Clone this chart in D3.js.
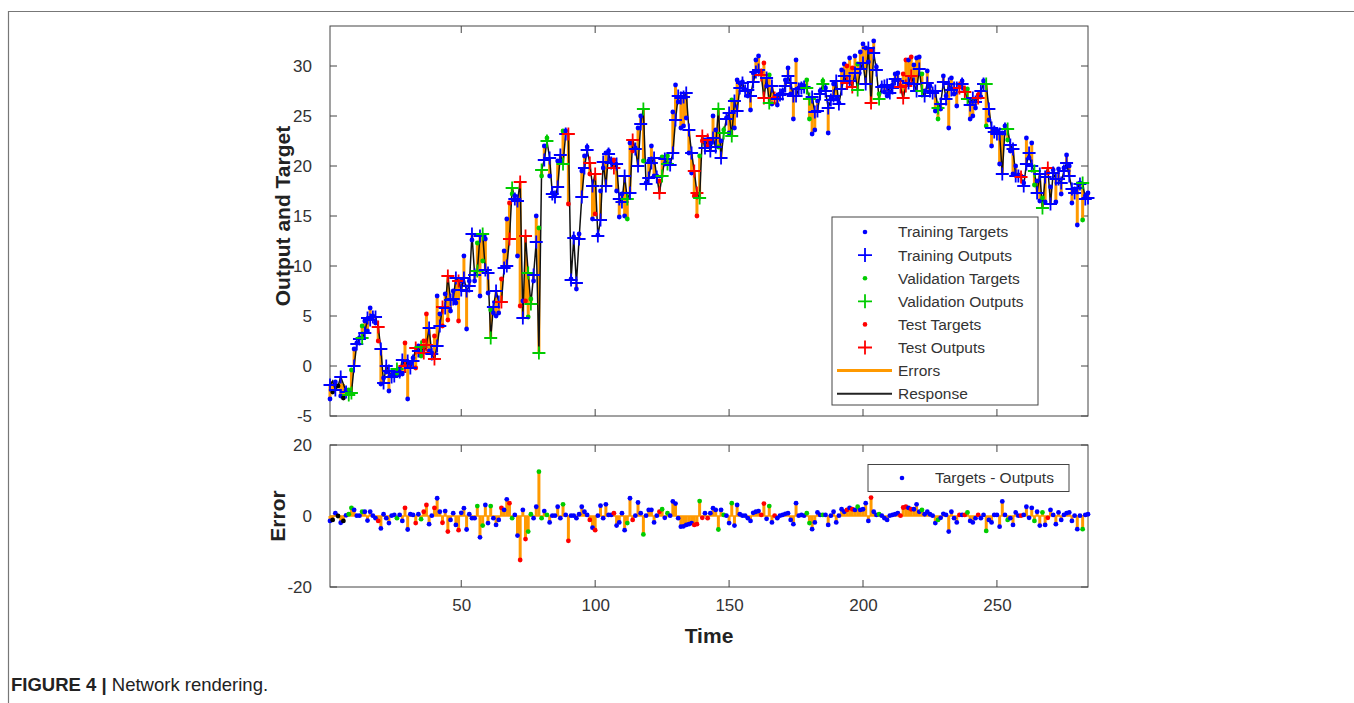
<!DOCTYPE html>
<html>
<head>
<meta charset="utf-8">
<script src="https://cdn.jsdelivr.net/npm/d3@7"></script>
<style>
  body { margin: 0; background: #fff; }
  svg { display: block; font-family: "Liberation Sans", Arial, sans-serif; }
</style>
</head>
<body>
<svg id="chart" width="1354" height="703"></svg>
<script>
/* Data (time steps 1..284) */
var targets = [
  -3.3, -2.6, -1.6, -2.0, -3.0, -3.2, -2.4, -2.4, -0.4, 1.7,
  2.3, 2.8, 4.0, 4.5, 3.5, 5.8, 5.0, 4.3, 2.5, -1.8,
  -1.2, -0.6, -2.5, -1.0, -0.7, -0.9, -0.3, -0.8, 2.3, -3.3,
  0.3, 0.8, -0.2, 2.0, 1.0, 2.5, 5.2, 1.5, 1.3, 3.0,
  7.0, 5.2, 4.0, 7.2, 4.6, 5.5, 7.5, 6.3, 4.5, 8.5,
  11.0, 3.7, 8.5, 12.6, 8.5, 12.3, 7.0, 10.5, 12.7, 7.3,
  5.6, 5.3, 5.0, 5.3, 8.7, 11.5, 14.7, 16.3, 17.2, 17.0,
  11.0, 6.0, 6.5, 6.5, 4.9, 6.7, 8.5, 15.0, 13.8, 19.0,
  22.0, 22.8, 19.0, 17.3, 17.0, 20.5, 20.5, 23.5, 23.5, 16.2,
  8.7, 12.9, 7.7, 13.2, 19.5, 21.0, 21.9, 19.2, 14.7, 15.2,
  13.1, 17.5, 19.8, 21.3, 21.5, 20.6, 20.6, 17.5, 14.9, 17.2,
  15.0, 14.7, 22.3, 21.5, 21.8, 23.8, 25.0, 20.5, 18.3, 20.5,
  22.0, 19.0, 19.0, 18.5, 20.9, 20.2, 21.0, 20.2, 25.4, 28.1,
  26.4, 23.8, 24.0, 24.8, 21.3, 19.3, 17.0, 15.0, 21.0, 22.5,
  22.6, 22.0, 22.3, 25.0, 23.6, 21.9, 22.5, 23.6, 24.8, 23.3,
  26.6, 23.8, 28.6, 28.3, 28.4, 27.6, 27.0, 25.6, 29.3, 30.6,
  31.0, 29.4, 30.3, 28.0, 29.1, 26.2, 26.9, 26.1, 27.2, 27.5,
  28.6, 29.8, 27.2, 24.7, 30.6, 27.8, 28.1, 28.0, 28.6, 24.7,
  23.2, 23.6, 26.5, 27.5, 28.5, 27.8, 23.3, 26.7, 28.2, 26.7,
  26.3, 29.6, 30.2, 30.0, 30.8, 29.8, 31.0, 30.2, 31.4, 32.2,
  31.8, 30.4, 31.5, 32.5, 29.9, 27.2, 28.0, 27.4, 27.0, 27.4,
  28.1, 29.2, 29.3, 28.0, 29.2, 30.6, 30.6, 30.9, 30.1, 30.8,
  30.9, 29.2, 27.5, 29.5, 28.0, 27.4, 25.5, 24.7, 25.7, 29.0,
  27.0, 23.8, 28.8, 27.2, 26.0, 28.1, 28.5, 27.7, 27.7, 24.7,
  25.0, 25.8, 27.1, 26.9, 28.5, 24.0, 24.6, 22.0, 23.7, 23.5,
  20.2, 23.3, 24.0, 22.6, 21.5, 19.2, 20.0, 19.1, 19.0, 18.3,
  22.8, 20.8, 22.3, 18.1, 18.5, 16.5, 16.8, 16.4, 19.3, 17.9,
  19.6, 16.4, 19.7, 17.2, 19.8, 21.1, 20.0, 16.3, 17.4, 14.1,
  18.3, 14.6, 17.0, 17.3
];

// errors = targets - outputs
var errors = [
  -1.4, -1.1, 0.8, 0.0, -1.9, -1.4, 0.2, 0.5, 2.3, 1.7,
  0.1, 0.1, 1.2, 1.2, -1.3, 1.2, 0.1, -0.6, -1.4, -3.5,
  0.5, -0.6, -2.0, 0.1, 0.3, -0.6, 0.3, -1.4, 2.3, -3.8,
  0.5, 0.3, -2.0, 0.5, -0.9, 1.2, 3.1, -2.3, 0.1, 2.3,
  5.0, 1.2, -1.9, 1.4, -4.4, -1.1, 0.8, -2.5, -4.0, 0.9,
  2.2, -3.8, 0.5, -0.6, -0.6, 2.8, -6.0, -2.7, 3.1, -2.0,
  2.8, -0.6, -2.5, -1.1, 2.3, 1.7, 4.7, 3.6, -0.6, 0.3,
  -5.5, -12.4, 1.7, -6.5, -4.4, 0.5, -0.6, 2.6, 12.5, -0.6,
  1.4, 0.3, -1.8, 0.1, 0.1, 2.6, -0.6, 3.3, 0.3, -7.0,
  0.1, 0.1, -0.6, 0.5, 2.6, 1.2, 0.3, -1.1, -3.3, -4.0,
  0.1, 2.9, -0.6, 3.3, 0.3, 0.3, 0.8, -2.7, -1.8, 0.8,
  -4.0, -2.0, 5.0, -1.1, 0.1, 3.8, 0.8, -5.2, 0.1, 1.7,
  1.7, -1.8, 0.1, 1.2, 1.9, -0.5, 0.8, 0.1, 4.1, 3.5,
  -0.6, -3.0, -2.9, -2.5, -2.3, -2.0, -2.5, -2.3, 4.2, -0.5,
  0.8, -0.6, 0.8, 2.2, 1.7, -3.8, 1.7, 0.3, 0.1, -2.0,
  3.6, -2.7, 3.1, 0.5, 0.1, 0.1, -0.6, -1.4, 0.9, 1.2,
  1.4, 0.3, 3.5, -0.8, 2.8, -1.8, 0.1, -0.6, 0.1, 0.3,
  0.6, 0.8, -1.1, -2.3, 3.6, 0.1, 0.3, 0.1, 0.8, -2.0,
  -3.7, -1.8, 1.0, 0.3, 0.3, 0.3, -2.5, 0.1, 1.2, -1.8,
  0.1, 1.9, 1.2, 1.7, 2.3, 1.9, 1.7, 2.6, 1.7, 1.9,
  3.6, -1.4, 5.2, 1.2, 0.3, 0.5, 0.1, -0.6, -1.1, 0.1,
  0.3, 0.5, 0.8, 0.1, 2.4, 2.6, 2.3, 1.9, 1.9, 3.3,
  1.2, 1.7, 0.5, 1.2, 0.5, 0.1, -2.0, -1.1, -0.5, 0.6,
  0.3, -4.4, 1.2, -0.6, -1.8, 0.3, 0.3, 0.3, 1.0, -1.4,
  -1.8, -0.6, 0.3, -0.6, 0.3, -4.2, -1.1, -1.8, 0.3, 0.3,
  -3.0, 4.1, 0.3, -1.1, -0.6, -2.5, 1.0, 0.1, 0.1, 0.3,
  2.6, -0.5, 2.3, -1.4, 1.2, -2.7, 1.0, -2.5, -0.5, 1.7,
  0.3, -2.3, 1.0, -1.1, 0.3, 0.8, 1.0, -1.4, 0.1, -3.7,
  0.1, -3.7, 0.3, 0.5
];

// t = training, v = validation, s = test
var split = ("trtrtrtvvt ttvtttttst tttttvttst ttstvsstts ttststttst " +
             "tttttvtvtt vtttsttsvt tstsvvttvv tvtttttvts tttttttsts " +
             "ttttttsttt tvtstttvtt tttsvtvttt ttttttssvs tstttvtvtt " +
             "vttttttttt tsstvtsttt ttttttttvv ttttvttttt tttststvtt " +
             "ttsttvtttt tttssststt tvtttttvtt tttttstsvt ttsttvtttt " +
             "tttvttttst tttvttvtst tttttttttt tvtt").replace(/ /g, "").split("");

var xTicks = [50, 100, 150, 200, 250];
var yTicksTop = [-5, 0, 5, 10, 15, 20, 25, 30];
var yTicksBottom = [-20, 0, 20];

var legendTop = [
  {label: "Training Targets", kind: "dot", color: "#0000ff"},
  {label: "Training Outputs", kind: "plus", color: "#0000ff"},
  {label: "Validation Targets", kind: "dot", color: "#00cc00"},
  {label: "Validation Outputs", kind: "plus", color: "#00cc00"},
  {label: "Test Targets", kind: "dot", color: "#ff0000"},
  {label: "Test Outputs", kind: "plus", color: "#ff0000"},
  {label: "Errors", kind: "line", color: "#ff9900"},
  {label: "Response", kind: "line", color: "#222"}
];

var colorOf = {t: "#0000ff", v: "#00cc00", s: "#ff0000"};
var axisColor = "#444";
var textColor = "#333";

var data = targets.map(function (v, i) {
  return {t: i + 1, target: v, err: errors[i], output: v - errors[i], set: split[i]};
});

var svg = d3.select("svg#chart");

// page frame
svg.append("path")
  .attr("d", "M8.5,703 V11.5 H1354")
  .attr("fill", "none")
  .attr("stroke", "#777")
  .attr("stroke-width", 1.2);

/* Scales */
var x = d3.scaleLinear().domain([1, 284]).range([330, 1088]);
var yTop = d3.scaleLinear().domain([-5, 34]).range([416, 26]);
var yBot = d3.scaleLinear().domain([-20, 20]).range([587, 445]);

function frame(yScale, yTicks, showX) {
  var y0 = yScale.range()[0], y1 = yScale.range()[1];
  var g = svg.append("g");
  g.append("rect")
    .attr("x", 330).attr("y", y1)
    .attr("width", 1088 - 330).attr("height", y0 - y1)
    .attr("fill", "none").attr("stroke", axisColor).attr("stroke-width", 1);

  // inward ticks on all four sides
  var tl = 7;
  xTicks.forEach(function (v) {
    g.append("line").attr("x1", x(v)).attr("x2", x(v)).attr("y1", y0).attr("y2", y0 - tl)
      .attr("stroke", axisColor);
    g.append("line").attr("x1", x(v)).attr("x2", x(v)).attr("y1", y1).attr("y2", y1 + tl)
      .attr("stroke", axisColor);
  });
  yTicks.forEach(function (v) {
    g.append("line").attr("x1", 330).attr("x2", 330 + tl).attr("y1", yScale(v)).attr("y2", yScale(v))
      .attr("stroke", axisColor);
    g.append("line").attr("x1", 1088).attr("x2", 1088 - tl).attr("y1", yScale(v)).attr("y2", yScale(v))
      .attr("stroke", axisColor);
  });

  // tick labels via d3 axis (lines hidden)
  var ya = g.append("g").attr("transform", "translate(330,0)")
    .call(d3.axisLeft(yScale).tickValues(yTicks).tickSize(0).tickPadding(18)
      .tickFormat(function (v) { return String(v); }));
  ya.select(".domain").remove();
  ya.selectAll("text").attr("font-size", 17).attr("fill", textColor)
    .attr("font-family", "Liberation Sans, Arial, sans-serif");

  if (showX) {
    var xa = g.append("g").attr("transform", "translate(0," + y0 + ")")
      .call(d3.axisBottom(x).tickValues(xTicks).tickSize(0).tickPadding(12));
    xa.select(".domain").remove();
    xa.selectAll("text").attr("font-size", 17).attr("fill", textColor)
      .attr("font-family", "Liberation Sans, Arial, sans-serif");
  }
}

function plus(sel, size) {
  sel.append("path")
    .attr("d", function (d) {
      var cx = x(d.t), cy = yTop(d.output);
      return "M" + (cx - size) + "," + cy + "H" + (cx + size) +
             "M" + cx + "," + (cy - size) + "V" + (cy + size);
    })
    .attr("stroke", function (d) { return colorOf[d.set]; })
    .attr("stroke-width", 1.8)
    .attr("fill", "none");
}

/* Top plot: output and target */
frame(yTop, yTicksTop, false);

var gTop = svg.append("g");

gTop.selectAll("line.err")
  .data(data)
  .enter()
  .append("line")
  .attr("class", "err")
  .attr("x1", function (d) { return x(d.t); })
  .attr("x2", function (d) { return x(d.t); })
  .attr("y1", function (d) { return yTop(d.target); })
  .attr("y2", function (d) { return yTop(d.output); })
  .attr("stroke", "#ff9900")
  .attr("stroke-width", 3);

gTop.append("path")
  .datum(data)
  .attr("d", d3.line().x(function (d) { return x(d.t); }).y(function (d) { return yTop(d.output); }))
  .attr("fill", "none")
  .attr("stroke", "#111")
  .attr("stroke-width", 1.5);

gTop.selectAll("circle.tgt")
  .data(data)
  .enter()
  .append("circle")
  .attr("class", "tgt")
  .attr("cx", function (d) { return x(d.t); })
  .attr("cy", function (d) { return yTop(d.target); })
  .attr("r", 2.4)
  .attr("fill", function (d) { return colorOf[d.set]; });

gTop.selectAll("g.out")
  .data(data)
  .enter()
  .append("g")
  .attr("class", "out")
  .call(plus, 6.5);

/* Top legend */
var lg = svg.append("g");
lg.append("rect").attr("x", 832).attr("y", 217).attr("width", 206).attr("height", 188)
  .attr("fill", "#fff").attr("stroke", axisColor);
legendTop.forEach(function (e, i) {
  var cy = 232 + i * 23.1;
  if (e.kind === "dot") {
    lg.append("circle").attr("cx", 865).attr("cy", cy).attr("r", 2.3).attr("fill", e.color);
  } else if (e.kind === "plus") {
    lg.append("path").attr("d", "M858," + cy + "H872M865," + (cy - 7) + "V" + (cy + 7))
      .attr("stroke", e.color).attr("stroke-width", 1.8);
  } else {
    lg.append("line").attr("x1", 837).attr("x2", 892).attr("y1", cy).attr("y2", cy)
      .attr("stroke", e.color).attr("stroke-width", e.label === "Errors" ? 3 : 2);
  }
  lg.append("text").attr("x", 898).attr("y", cy).attr("dy", "0.35em")
    .attr("font-size", 15.5).attr("fill", textColor).text(e.label);
});

/* Bottom plot: error */
frame(yBot, yTicksBottom, true);

var gBot = svg.append("g");
gBot.append("line")
  .attr("x1", x(1)).attr("x2", x(284)).attr("y1", yBot(0)).attr("y2", yBot(0))
  .attr("stroke", "#ff9900").attr("stroke-width", 1.5);

gBot.selectAll("line.stem")
  .data(data)
  .enter()
  .append("line")
  .attr("class", "stem")
  .attr("x1", function (d) { return x(d.t); })
  .attr("x2", function (d) { return x(d.t); })
  .attr("y1", yBot(0))
  .attr("y2", function (d) { return yBot(d.err); })
  .attr("stroke", "#ff9900")
  .attr("stroke-width", 3);

gBot.selectAll("circle.e")
  .data(data)
  .enter()
  .append("circle")
  .attr("class", "e")
  .attr("cx", function (d) { return x(d.t); })
  .attr("cy", function (d) { return yBot(d.err); })
  .attr("r", 2.4)
  .attr("fill", function (d) { return colorOf[d.set]; });

var lb = svg.append("g");
lb.append("rect").attr("x", 868).attr("y", 464.5).attr("width", 201).attr("height", 27)
  .attr("fill", "#fff").attr("stroke", axisColor);
lb.append("circle").attr("cx", 902).attr("cy", 478).attr("r", 2.3).attr("fill", "#0000ff");
lb.append("text").attr("x", 935).attr("y", 478).attr("dy", "0.35em")
  .attr("font-size", 15.5).attr("fill", textColor).text("Targets - Outputs");

/* Axis titles */
svg.append("text")
  .attr("transform", "translate(290,216) rotate(-90)")
  .attr("text-anchor", "middle")
  .attr("font-size", 21).attr("font-weight", "bold").attr("fill", "#222")
  .text("Output and Target");

svg.append("text")
  .attr("transform", "translate(285,516) rotate(-90)")
  .attr("text-anchor", "middle")
  .attr("font-size", 21).attr("font-weight", "bold").attr("fill", "#222")
  .text("Error");

svg.append("text")
  .attr("x", 709).attr("y", 643)
  .attr("text-anchor", "middle")
  .attr("font-size", 21).attr("font-weight", "bold").attr("fill", "#222")
  .text("Time");

/* Caption */
var cap = svg.append("text").attr("x", 11).attr("y", 691).attr("font-size", 18.5).attr("fill", "#222");
cap.append("tspan").attr("font-weight", "bold").text("FIGURE 4 | ");
cap.append("tspan").text("Network rendering.");
</script>
</body>
</html>
